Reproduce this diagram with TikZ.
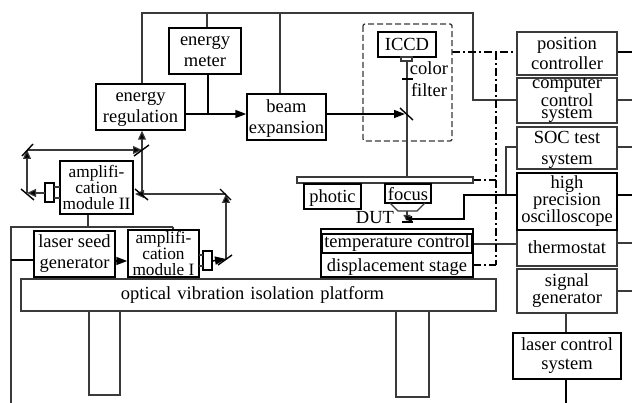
\documentclass[tikz,border=0pt]{standalone}
\usepackage{fontspec}
\setmainfont{Liberation Serif}
\usetikzlibrary{arrows.meta,calc}
\definecolor{gl}{HTML}{3A3A3A}
\tikzset{
 x=1pt,y=-1pt,
 boxa/.style={draw=black,line width=1.5pt,fill=white,inner sep=0pt,align=center,font=\fontsize{18.5}{21}\selectfont},
 boxg/.style={boxa,draw=gl,line width=1.4pt},
 thin box/.style={draw=gl,line width=1.1pt,fill=white,inner sep=0pt,align=center,font=\fontsize{18.5}{21}\selectfont},
 amp/.style={boxa,font=\fontsize{17.3}{16}\selectfont},
 conn/.style={draw=gl,line width=1.2pt},
 darkc/.style={draw=black,line width=1.5pt},
 arr/.style={conn,-{Triangle[length=9pt,width=8pt,fill=black]}},
 arrb/.style={darkc,-{Triangle[length=11pt,width=8pt,fill=black]}},
 dashd/.style={draw=black,line width=1.3pt,dash pattern=on 8pt off 3pt on 2pt off 3pt},
 mirror/.style={draw=black,line width=1.4pt},
 lab/.style={inner sep=0pt,align=center,font=\fontsize{18.5}{21}\selectfont},
 low/.style={text depth=0pt}
}
\newcommand{\bx}[7][]{\node[#2,minimum width=#5-#4,minimum height=#7-#6,#1] (#3) at ({(#4+#5)/2},{(#6+#7)/2}) }
\begin{document}
\begin{tikzpicture}
\useasboundingbox[fill=white] (0,0) rectangle (632,403);
% coordinates
\coordinate (topL) at (142,13);
\coordinate (topR) at (473,13);
\coordinate (m1) at (142,150);
\coordinate (m2) at (27,150);
\coordinate (m3) at (27,193);
\coordinate (m4) at (142,194);
\coordinate (m5) at (226,194);
\coordinate (m6) at (226,259);
\coordinate (m7) at (407,114);
\coordinate (bus) at (496,52);
\coordinate (busB) at (496,265);
\coordinate (loopT) at (173,227);
\coordinate (loopL) at (11,227);
\coordinate (loopB) at (11,403);
\coordinate (r1) at (632,52);
\coordinate (r2) at (632,100);
\coordinate (r3) at (632,147);
\coordinate (r4) at (632,195);
\coordinate (r5) at (632,243);
\coordinate (r6) at (632,291);
\coordinate (lb) at (566,403);
% legs and platform
\bx{thin box}{legA}{89}{120}{309}{395} {};
\bx{thin box}{legB}{396}{429}{309}{397} {};
% connectors behind boxes
\draw[conn] (loopT) -- (loopL) -- (loopB);
\draw[conn] (173,227) -- (173,231);
\draw[conn] (88,214) -- (88,227);
\draw[darkc] (11,260) -- (34,260);
\draw[conn] (142,84) -- (topL) -- (topR) -- (473,100) -- (517,100);
\draw[conn] (207,13) -- (207,28);
\draw[conn] (280,13) -- (280,94);
\draw[darkc] (208,74) -- (208,114);
\draw[conn] (407,61) -- (407,177);
% mid-right lines
\draw[conn] (517,147) -- (506,147) -- (506,195);
\draw[darkc] (517,195) -- (464,195) -- (464,219) -- (409,219);
\draw[conn] (473,244) -- (517,244);
\draw[darkc] (617,52) -- (r1);
\draw[conn] (617,100) -- (r2);
\draw[conn] (617,147) -- (r3);
\draw[darkc] (617,195) -- (r4);
\draw[conn] (617,243) -- (r5);
\draw[conn] (617,291) -- (r6);
\draw[conn] (566,313) -- (566,333);
\draw[darkc] (566,379) -- (lb);
% dash-dot control bus
\draw[dashd] (452,52) -- (517,52);
\draw[dashd] (bus) -- (496,265);
\draw[dashd] (473,180) -- (496,180);
\draw[dashd] (473,265) -- (busB);
% main boxes
\bx[low]{boxa}{meter}{169}{241}{28}{74} {energy\\meter};
\bx[low]{boxa}{reg}{96}{185}{84}{130} {energy\\regulation};
\bx[low]{boxa}{beam}{247}{326}{94}{140} {beam\\expansion};
\draw[draw=gl,line width=1.3pt,rounded corners=2pt,dash pattern=on 6pt off 3pt] (363,24) rectangle (452,141);
\bx{boxa}{iccd}{378}{436}{32}{57} {ICCD};
\bx{thin box}{lens}{401}{412}{57}{61} {};
\draw[line width=2.4pt,black] (402,79) -- (413,79);
\node[lab] (colort) at (429,68) {color};
\node[lab] (filtert) at (429,90) {filter};
\bx[font=\fontsize{18.5}{20}\selectfont]{boxg}{pos}{517}{617}{32}{75} {position\\controller};
\bx[font=\fontsize{18.5}{12.5}\selectfont]{boxg}{comp}{517}{617}{79}{122} {computer\\control\\system};
\bx[low]{thin box,line width=1.4pt}{soc}{517}{617}{127}{169} {SOC test\\system};
\bx{thin box,line width=1.4pt}{thermo}{517}{617}{228}{266} {thermostat};
\bx[font=\fontsize{18.5}{17}\selectfont]{boxa}{osc}{517}{617}{173}{230} {high\\precision\\oscilloscope};
\bx[font=\fontsize{18.5}{17}\selectfont]{boxg}{sig}{517}{617}{269}{313} {signal\\generator};
\bx[font=\fontsize{18.5}{19}\selectfont]{boxa}{laserc}{513}{621}{333}{379} {laser control\\system};
\bx{thin box}{slab}{297}{473}{177}{183} {};
\bx[low]{boxa}{photic}{304}{361}{184}{209} {photic};
\bx[low]{boxa}{focus}{385}{431}{184}{203} {focus};
\node[lab] (dut) at (375,218) {DUT};
\draw[conn] (390,203) -- (398,211) -- (417,211) -- (425,203);
\draw[conn,-{Triangle[length=6pt,width=7pt,fill=black]}] (407,211) -- (407,221);
\draw[line width=2pt,black] (402,222) -- (413,222);
\draw[darkc,-{Triangle[length=7pt,width=6pt,fill=black]}] (420,219) -- (405,219);
\bx{boxa}{stage}{321}{473}{229}{277} {};
\bx{boxa}{temp}{322}{472}{234}{253} {temperature control};
\node[lab] (disp) at (397,267) {displacement stage};
\bx[text width=475pt,yshift=-2pt]{thin box}{plat}{21}{496}{277}{309} {\hspace*{-12pt}optical vibration isolation platform};
% amplifier section
\bx{amp}{amp2}{60}{133}{161}{214} {amplifi-\\cation\\module II};
\bx{amp}{amp1}{128}{199}{230}{277} {amplifi-\\cation\\module I};
\bx{boxa}{seed}{34}{115}{231}{277} {laser seed\\generator};
\bx{boxa}{q2}{45}{54}{183}{202} {};
\bx{boxa}{q1}{203}{212}{251}{270} {};
\draw[conn] (54,187) -- (60,187) (54,198) -- (60,198);
\draw[conn] (199,255) -- (203,255) (199,266) -- (203,266);
% optical paths with arrows
\draw[arrb] (seed.east |- 0,261) -- (amp1.west |- 0,261);
\draw[arrb] (reg.east |- 0,114) -- (beam.west |- 0,114);
\draw[arrb] (beam.east |- 0,114) -- ($(m7)+(-2,0)$);
\draw[arr] (m4) -- (reg.south -| m4);
\draw[arr] (m2) -- (m1);
\draw[arr] (m3) -- (m2);
\draw[arr] (45,193) -- (m3);
\draw[arr] (m5) -- ($(m4)+(-7,0)$);
\draw[arr] (m6) -- (m5);
\draw[arrb] (212,261) -- (m6);
% mirrors
\draw[mirror] ($(m1)+(-8,6)$) -- ($(m1)+(7,-5)$);
\draw[mirror] ($(m2)+(-5,6)$) -- ($(m2)+(6,-6)$);
\draw[mirror] ($(m3)+(-6,-4)$) -- ($(m3)+(7,7)$);
\draw[mirror] ($(m4)+(-7,-5)$) -- ($(m4)+(6,6)$);
\draw[mirror] ($(m5)+(-6,-5)$) -- ($(m5)+(5,6)$);
\draw[mirror] ($(m6)+(-8,6)$) -- ($(m6)+(6,-4)$);
\draw[mirror] ($(m7)+(-7,-6)$) -- ($(m7)+(6,6)$);
\end{tikzpicture}
\end{document}
